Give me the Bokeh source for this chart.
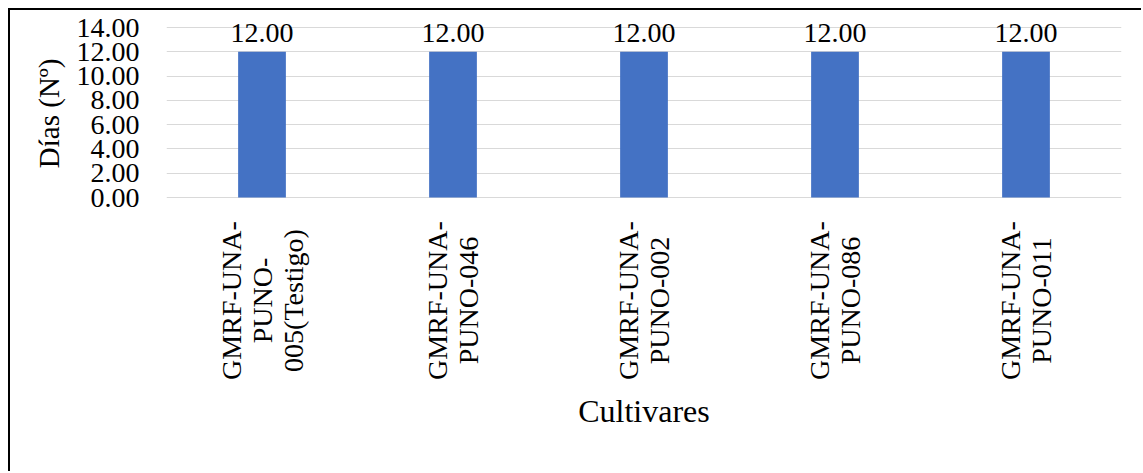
import math
from bokeh.plotting import figure
from bokeh.models import ColumnDataSource, Range1d, FixedTicker, CustomJSTickFormatter, Title
from bokeh.core.properties import value
from bokeh.embed import file_html
from bokeh.resources import INLINE

# Cultivars and days to emergence
cultivares = [
    "GMRF-UNA-PUNO-005(Testigo)",
    "GMRF-UNA-PUNO-046",
    "GMRF-UNA-PUNO-002",
    "GMRF-UNA-PUNO-086",
    "GMRF-UNA-PUNO-011",
]
dias = [12.00, 12.00, 12.00, 12.00, 12.00]
y_ticks = [0, 2, 4, 6, 8, 10, 12, 14]

# category names broken over lines for the rotated labels
etiquetas = [
    "GMRF-UNA-\nPUNO-\n005(Testigo)",
    "GMRF-UNA-\nPUNO-046",
    "GMRF-UNA-\nPUNO-002",
    "GMRF-UNA-\nPUNO-086",
    "GMRF-UNA-\nPUNO-011",
]

FONT = "Liberation Serif"
FS_TICK = "28px"
FS_CAT = "28px"
FS_YTITLE = "29px"
FS_TITLE = "32px"

source = ColumnDataSource(dict(
    x=cultivares,
    y=dias,
    lbl=[f"{v:.2f}" for v in dias],
    cat=etiquetas,
    base=[0.0] * len(dias),
))

# the frame reaches below zero so the category labels can sit under the bars,
# and a little above 14 so the value labels are not clipped
p = figure(
    x_range=cultivares,
    y_range=Range1d(-20, 15.4),
    width=1133,
    height=463,
    min_border_left=156,
    min_border_right=22,
    min_border_top=0,
    min_border_bottom=33,
    output_backend="svg",
    toolbar_location=None,
)
p.margin = (8, 0, 0, 8)
p.styles = {"border-left": "2px solid #000000", "border-top": "2px solid #000000"}
p.outline_line_color = None
p.background_fill_color = "white"
p.border_fill_color = "white"

p.vbar(x="x", top="y", width=0.25, source=source, fill_color="#4472C4", line_color=None)

# value labels above the bars
p.text(x="x", y="y", text="lbl", source=source, text_align="center",
       text_baseline="bottom", y_offset=-10,
       text_font=value(FONT), text_font_size=FS_TICK, text_color="#000000")

# rotated category labels under the baseline
p.text(x="x", y="base", text="cat", source=source, angle=math.pi / 2,
       text_align="center", text_baseline="middle", y_offset=103,
       text_line_height=1.0,
       text_font=value(FONT), text_font_size=FS_CAT, text_color="#000000")

# x axis title
p.text(x=[cultivares[2]], y=[0.0], text=["Cultivares"], text_align="center",
       text_baseline="middle", y_offset=213,
       text_font=value(FONT), text_font_size=FS_TITLE, text_color="#000000")

# y axis
p.yaxis.ticker = FixedTicker(ticks=y_ticks)
p.yaxis.formatter = CustomJSTickFormatter(code="return tick.toFixed(2);")
p.yaxis.axis_line_color = None
p.yaxis.major_tick_line_color = None
p.yaxis.minor_tick_line_color = None
p.yaxis.major_label_text_font = FONT
p.yaxis.major_label_text_font_size = FS_TICK
p.yaxis.major_label_text_color = "#000000"
p.yaxis.major_label_standoff = 21

# y axis title, placed beside the 0-14 span
p.add_layout(Title(text="Días (Nº)", align="right", offset=48, standoff=18,
                   text_font=FONT, text_font_size=FS_YTITLE,
                   text_font_style="normal", text_color="#000000"), "left")

p.xaxis.visible = False
p.xgrid.grid_line_color = None
p.ygrid.grid_line_color = "#d9d9d9"
p.ygrid.grid_line_width = 1

open("out.html", "w").write(file_html(p, INLINE))
